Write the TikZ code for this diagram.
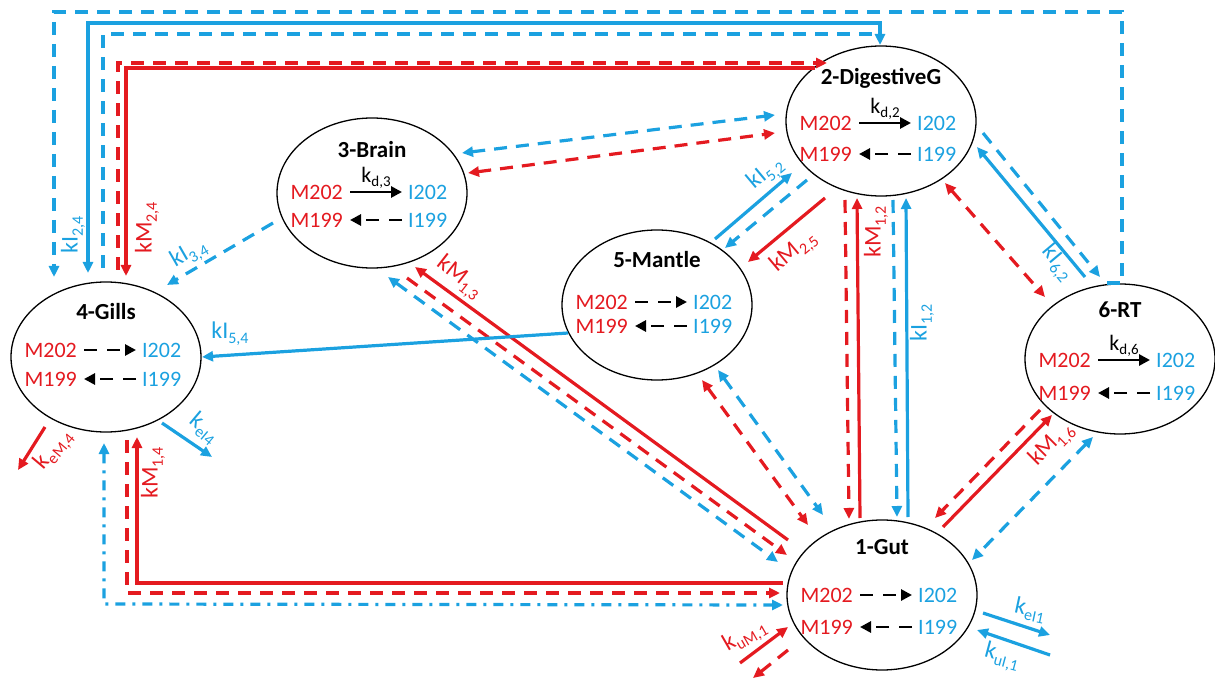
\documentclass[tikz,border=0pt]{standalone}
\usepackage{fontspec}
\setmainfont{Carlito}
\usetikzlibrary{arrows.meta,shapes.geometric}
\definecolor{cred}{RGB}{228,26,32}
\definecolor{cblue}{RGB}{27,161,224}
\newcommand{\ksub}[1]{\raisebox{-0.45ex}{\fontsize{16}{16}\selectfont #1}}
\newcommand{\isub}[1]{\raisebox{-0.45ex}{\fontsize{15}{15}\selectfont #1}}
\tikzset{
 comp/.style={ellipse,draw=black,line width=1.3pt,minimum width=190pt,minimum height=150pt,inner sep=0pt},
 ttl/.style={font=\fontsize{23}{25}\selectfont\bfseries,inner sep=0pt},
 lab/.style={font=\fontsize{22}{24}\selectfont,inner sep=0pt},
 elab/.style={font=\fontsize{24}{26}\selectfont,inner sep=0pt},
 ln/.style={line width=3.2pt},
 dsh/.style={dash pattern=on 13pt off 9pt},
 ddot/.style={dash pattern=on 10pt off 7pt on 3pt off 7pt},
 iarr/.style={line width=2.8pt,-{Triangle[length=11pt,width=11pt]}},
 idsh/.style={dash pattern=on 13pt off 10pt},
}
\newcommand{\compart}[8]{%
 \node[comp] (#1) at (#2,#3) {};
 \node[ttl] (#1t) at ([shift={(0,#5)}]#1.center) {#4};
 \node[lab,text=cred,anchor=east] (#1m2) at ([shift={(-29,#6)}]#1.center) {M202};
 \node[lab,text=cblue,anchor=west] (#1i2) at ([shift={(36,#6)}]#1.center) {I202};
 \node[lab,text=cred,anchor=east] (#1m9) at ([shift={(-29,#7)}]#1.center) {M199};
 \node[lab,text=cblue,anchor=west] (#1i9) at ([shift={(36,#7)}]#1.center) {I199};
 \draw[iarr,#8] ([xshift=7pt]#1m2.east) -- coordinate[midway] (#1mid) ([xshift=-6pt]#1i2.west);
 \draw[iarr,idsh] ([xshift=-6pt]#1i9.west) -- ([xshift=7pt]#1m9.east);
}
\begin{document}
\begin{tikzpicture}[x=1pt,y=-1pt,>={Triangle[length=11pt,width=10pt]}]
\useasboundingbox (0,0) rectangle (1215,684);

\compart{gills}{106}{357}{4-Gills}{-45}{-7}{22}{idsh}
\compart{dig}{881}{121}{2-DigestiveG}{-43}{2}{33}{solid}
\compart{brain}{372}{193}{3-Brain}{-43}{-1}{27}{solid}
\compart{mantle}{657}{305}{5-Mantle}{-45}{-3}{21}{idsh}
\compart{rt}{1120}{359}{6-RT}{-49}{1}{34}{solid}
\compart{gut}{882}{595}{1-Gut}{-48}{0}{32}{idsh}

\node[lab,above=3pt] (digkd) at (digmid) {k\isub{d,2}};
\node[lab,above=3pt] (brainkd) at (brainmid) {k\isub{d,3}};
\node[lab,above=3pt] (rtkd) at (rtmid) {k\isub{d,6}};

% top loops
\draw[ln,cblue,dsh,->] ([shift={(-13,-76)}]rt.center) -- ([shift={(2,-76)}]rt.center) -- (1122,12) -- (54,12) -- ([shift={(-52,-80)}]gills.center);
\draw[ln,cblue,<->] ([shift={(-1,-76)}]dig.center) -- (880,23) -- (88,23) -- ([shift={(-18,-84)}]gills.center);
\draw[ln,cblue,dsh] ([shift={(-3,-89)}]gills.center) -- (103,34) -- (880,34);
\draw[ln,cred,dsh,->] ([shift={(12,-87)}]gills.center) -- (118,63) -- ([shift={(-54,-58)}]dig.center);
\draw[ln,cred,->] ([shift={(-66,-53)}]dig.center) -- (126,68) -- ([shift={(20,-81)}]gills.center);

% brain -> gills
\draw[ln,cblue,dsh,->] ([shift={(-99,30)}]brain.center) -- ([shift={(61,-72)}]gills.center);
% brain <-> dig
\draw[ln,cblue,dsh,<->] ([shift={(90,-40)}]brain.center) -- ([shift={(-106,-6)}]dig.center);
\draw[ln,cred,dsh,<->] ([shift={(96,-20)}]brain.center) -- ([shift={(-106,12)}]dig.center);
% mantle <-> dig
\draw[ln,cblue,->] ([shift={(58,-66)}]mantle.center) -- ([shift={(-89,52)}]dig.center);
\draw[ln,cblue,dsh,->] ([shift={(-74,59)}]dig.center) -- ([shift={(68,-57)}]mantle.center);
\draw[ln,cred,->] ([shift={(-56,77)}]dig.center) -- ([shift={(91,-43)}]mantle.center);
% dig <-> gut
\draw[ln,cred,dsh,->] ([shift={(-36,79)}]dig.center) -- ([shift={(-33,-76)}]gut.center);
\draw[ln,cred,->] ([shift={(-22,-77)}]gut.center) -- ([shift={(-24,77)}]dig.center);
\draw[ln,cblue,dsh,->] ([shift={(12,79)}]dig.center) -- ([shift={(15,-78)}]gut.center);
\draw[ln,cblue,->] ([shift={(26,-78)}]gut.center) -- ([shift={(25,77)}]dig.center);
% dig <-> rt
\draw[ln,cblue,->] ([shift={(-35,-82)}]rt.center) -- ([shift={(96,26)}]dig.center);
\draw[ln,cblue,dsh,->] ([shift={(102,12)}]dig.center) -- ([shift={(-20,-82)}]rt.center);
\draw[ln,cred,dsh,<->] ([shift={(64,62)}]dig.center) -- ([shift={(-75,-62)}]rt.center);
% gut <-> rt
\draw[ln,cred,->] ([shift={(61,-68)}]gut.center) -- ([shift={(-68,56)}]rt.center);
\draw[ln,cred,dsh,->] ([shift={(-80,51)}]rt.center) -- ([shift={(53,-77)}]gut.center);
\draw[ln,cblue,dsh,<->] ([shift={(-27,78)}]rt.center) -- ([shift={(90,-35)}]gut.center);
% gut <-> mantle
\draw[ln,cred,dsh,<->] ([shift={(45,75)}]mantle.center) -- ([shift={(-74,-70)}]gut.center);
\draw[ln,cblue,dsh,<->] ([shift={(61,65)}]mantle.center) -- ([shift={(-59,-80)}]gut.center);
% gut <-> brain
\draw[ln,cred,->] ([shift={(-94,-55)}]gut.center) -- ([shift={(43,74)}]brain.center);
\draw[ln,cred,dsh,->] ([shift={(35,85)}]brain.center) -- ([shift={(-95,-40)}]gut.center);
\draw[ln,cblue,dsh,<->] ([shift={(16,84)}]brain.center) -- ([shift={(-104,-33)}]gut.center);
% mantle -> gills
\draw[ln,cblue,->] ([shift={(-89,28)}]mantle.center) -- ([shift={(96,0)}]gills.center);
% gut <-> gills
\draw[ln,cred,->] ([shift={(-99,-12)}]gut.center) -- (137,583) -- ([shift={(31,80)}]gills.center);
\draw[ln,cred,dsh,->] ([shift={(21,83)}]gills.center) -- (127,593) -- ([shift={(-102,-2)}]gut.center);
\draw[ln,cblue,ddot,<->] ([shift={(-2,86)}]gills.center) -- (104,604) -- ([shift={(-99,10)}]gut.center);
% external flows
\coordinate (gout1) at (18,470);
\coordinate (gout2) at (212,457);
\coordinate (uin1) at (740,663);
\coordinate (uout1) at (753,678);
\coordinate (uout2) at (1050,635);
\coordinate (uin2) at (1050,655);
\draw[ln,cred,->] ([shift={(-61,70)}]gills.center) -- (gout1);
\draw[ln,cblue,->] ([shift={(56,66)}]gills.center) -- (gout2);
\draw[ln,cred,->] (uin1) -- ([shift={(-94,32)}]gut.center);
\draw[ln,cred,dsh,->] ([shift={(-94,55)}]gut.center) -- (uout1);
\draw[ln,cblue,->] ([shift={(101,18)}]gut.center) -- (uout2);
\draw[ln,cblue,->] (uin2) -- ([shift={(95,35)}]gut.center);

% labels
\node[elab,text=cblue,rotate=90] (l24i) at (73,235) {kI\ksub{2,4}};
\node[elab,text=cred,rotate=90] (l24m) at (147,228) {kM\ksub{2,4}};
\node[elab,text=cblue,rotate=30] (l34i) at (189,254) {kI\ksub{3,4}};
\node[elab,text=cred,rotate=-38] (l13m) at (459,278) {kM\ksub{1,3}};
\node[elab,text=cblue,rotate=40] (l52i) at (766,174) {kI\ksub{5,2}};
\node[elab,text=cred,rotate=40] (l25m) at (794,252) {kM\ksub{2,5}};
\node[elab,text=cred,rotate=90] (l12m) at (876,232) {kM\ksub{1,2}};
\node[elab,text=cblue,rotate=90] (l12i) at (922,323) {kI\ksub{1,2}};
\node[elab,text=cblue,rotate=-50] (l62i) at (1057,263) {kI\ksub{6,2}};
\node[elab,text=cred,rotate=45] (l16m) at (1052,445) {kM\ksub{1,6}};
\node[elab,text=cblue] (l54i) at (230,334) {kI\ksub{5,4}};
\node[elab,text=cred,rotate=90] (l14m) at (153,473) {kM\ksub{1,4}};
\node[elab,text=cred,rotate=50] (leM4) at (54,450) {k\ksub{eM,4}};
\node[elab,text=cblue,rotate=-40] (leI4) at (204,428) {k\ksub{eI4}};
\node[elab,text=cred,rotate=30] (luM1) at (745,636) {k\ksub{uM,1}};
\node[elab,text=cblue,rotate=-12] (leI1) at (1030,610) {k\ksub{eI1}};
\node[elab,text=cblue,rotate=-15] (luI1) at (1002,657) {k\ksub{uI,1}};
\end{tikzpicture}
\end{document}
